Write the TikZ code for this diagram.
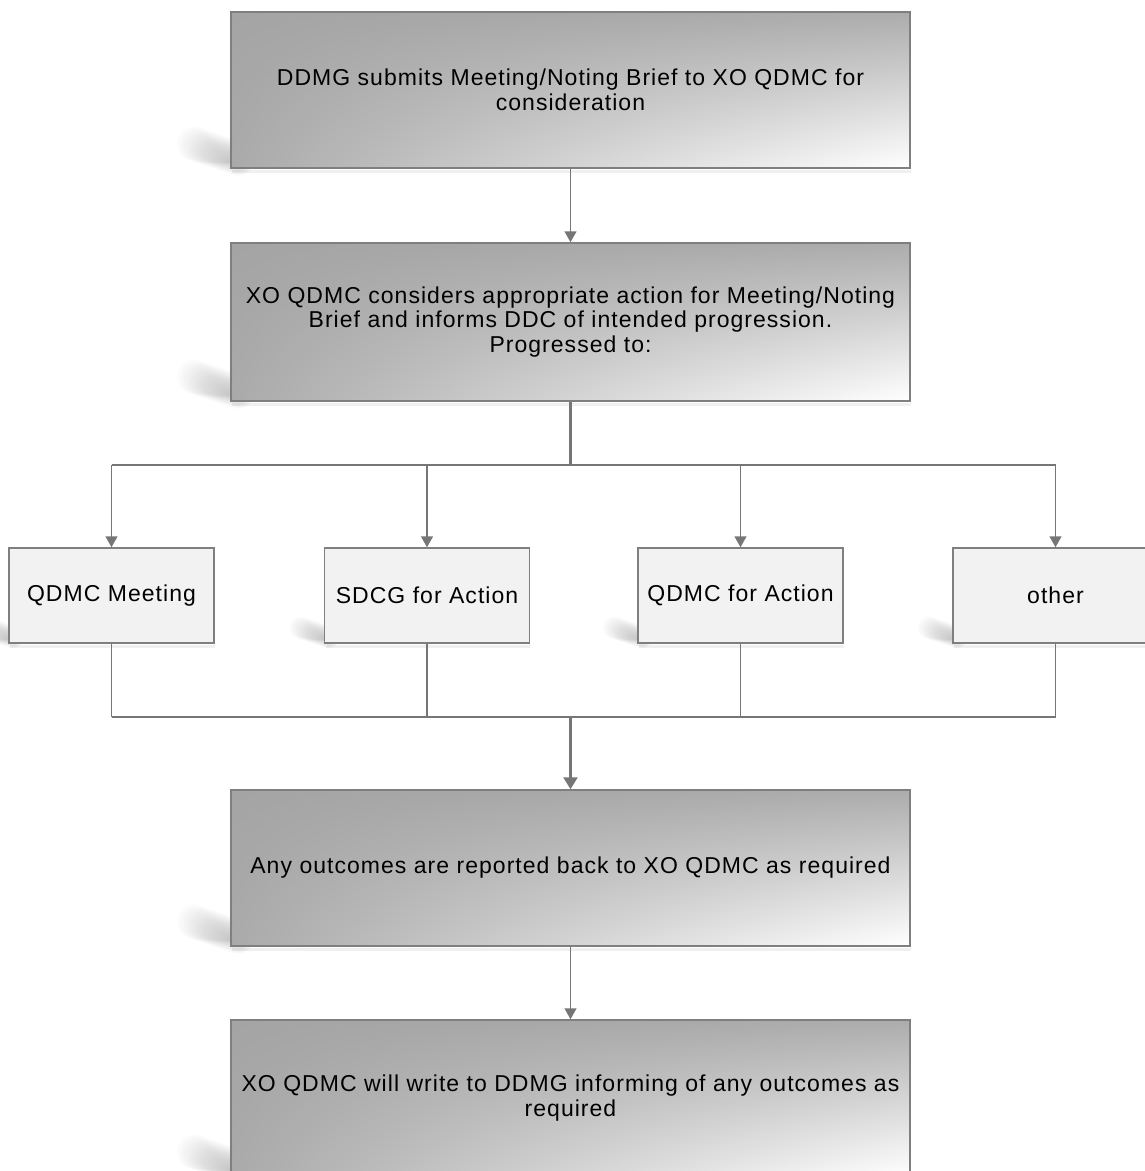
\documentclass[tikz,border=0pt]{standalone}
\usepackage{fontspec}
\setmainfont[LetterSpace=4.5]{Liberation Sans}
\usetikzlibrary{arrows.meta,backgrounds,calc,shadings}
\definecolor{ln}{HTML}{767676}
\definecolor{bx}{HTML}{7F7F7F}
\definecolor{smallfill}{HTML}{F2F2F2}
\definecolor{gul}{HTML}{A4A4A4}
\definecolor{gur}{HTML}{ACACAC}
\definecolor{gll}{HTML}{AAAAAA}
\newcommand\wedgeshadow[2]{%
  \begin{scope}[shift={(#1.south west)}, scale=#2]
    \foreach \k in {0,...,15} {
      \path[draw=black, line cap=round, line width={(34-2*\k)*#2*1pt}, draw opacity=0.017]
        ({-36+2.4*\k},{-25+1.2*\k}) -- (8,-10);
    }
  \end{scope}%
  \path[draw=black, line width=3pt, draw opacity=0.06]
    ($(#1.south west)+(2,2.5)$) -- ($(#1.south east)+(0,2.5)$);
}
\begin{document}
\begin{tikzpicture}[x=1pt,y=-1pt,
  bigbox/.style={draw=bx, line width=1.5pt, minimum width=679pt, minimum height=156pt,
    inner sep=0pt, align=center, font=\fontsize{23}{24.5}\selectfont,
    upper left=gul, upper right=gur, lower left=gll, lower right=white},
  smallbox/.style={draw=bx, line width=1.5pt, fill=smallfill, minimum width=205pt,
    minimum height=95pt, inner sep=0pt, align=center, font=\fontsize{23}{24.5}\selectfont},
  conn/.style={draw=ln, line width=1.5pt},
  heavy/.style={draw=ln, line width=2.5pt},
  arr/.style={conn, -{Triangle[width=12pt,length=11pt]}},
  harr/.style={heavy, -{Triangle[width=14pt,length=12pt]}}]
\useasboundingbox (0,0) rectangle (1145,1171);
\clip (0,0) rectangle (1145,1171);

\node[bigbox] (b1) at (570.5,90) {DDMG submits Meeting/Noting Brief to XO QDMC for\\consideration};
\node[bigbox, minimum height=158pt] (b2) at (570.5,322) {XO QDMC considers appropriate action for Meeting/Noting\\Brief and informs DDC of intended progression.\\Progressed to:};
\node[smallbox] (s1) at (111.5,595.5) {QDMC Meeting};
\node[smallbox] (s2) at (427,595.5) {SDCG for Action};
\node[smallbox] (s3) at (740.5,595.5) {QDMC for Action};
\node[smallbox] (s4) at (1055.5,595.5) {other};
\node[bigbox] (b3) at (570.5,868) {Any outcomes are reported back to XO QDMC as required};
\node[bigbox] (b4) at (570.5,1098) {XO QDMC will write to DDMG informing of any outcomes as\\required};

\coordinate (j1) at (570.5,465);
\coordinate (j2) at (570.5,717);

\begin{scope}[on background layer]
  \wedgeshadow{b1}{1}
  \wedgeshadow{b2}{1}
  \wedgeshadow{b3}{1}
  \wedgeshadow{b4}{1}
  \wedgeshadow{s1}{0.65}
  \wedgeshadow{s2}{0.65}
  \wedgeshadow{s3}{0.65}
  \wedgeshadow{s4}{0.65}
\end{scope}

\draw[arr] (b1.south) -- (b2.north);
\draw[heavy] (b2.south) -- (j1);
\draw[conn] (s1 |- j1) -- (s4 |- j1);
\foreach \s in {s1,s2,s3,s4} {
  \draw[arr] (\s |- j1) -- (\s.north);
  \draw[conn] (\s.south) -- (\s |- j2);
}
\draw[conn] (s1 |- j2) -- (s4 |- j2);
\draw[harr] (j2) -- (b3.north);
\draw[arr] (b3.south) -- (b4.north);
\end{tikzpicture}
\end{document}
